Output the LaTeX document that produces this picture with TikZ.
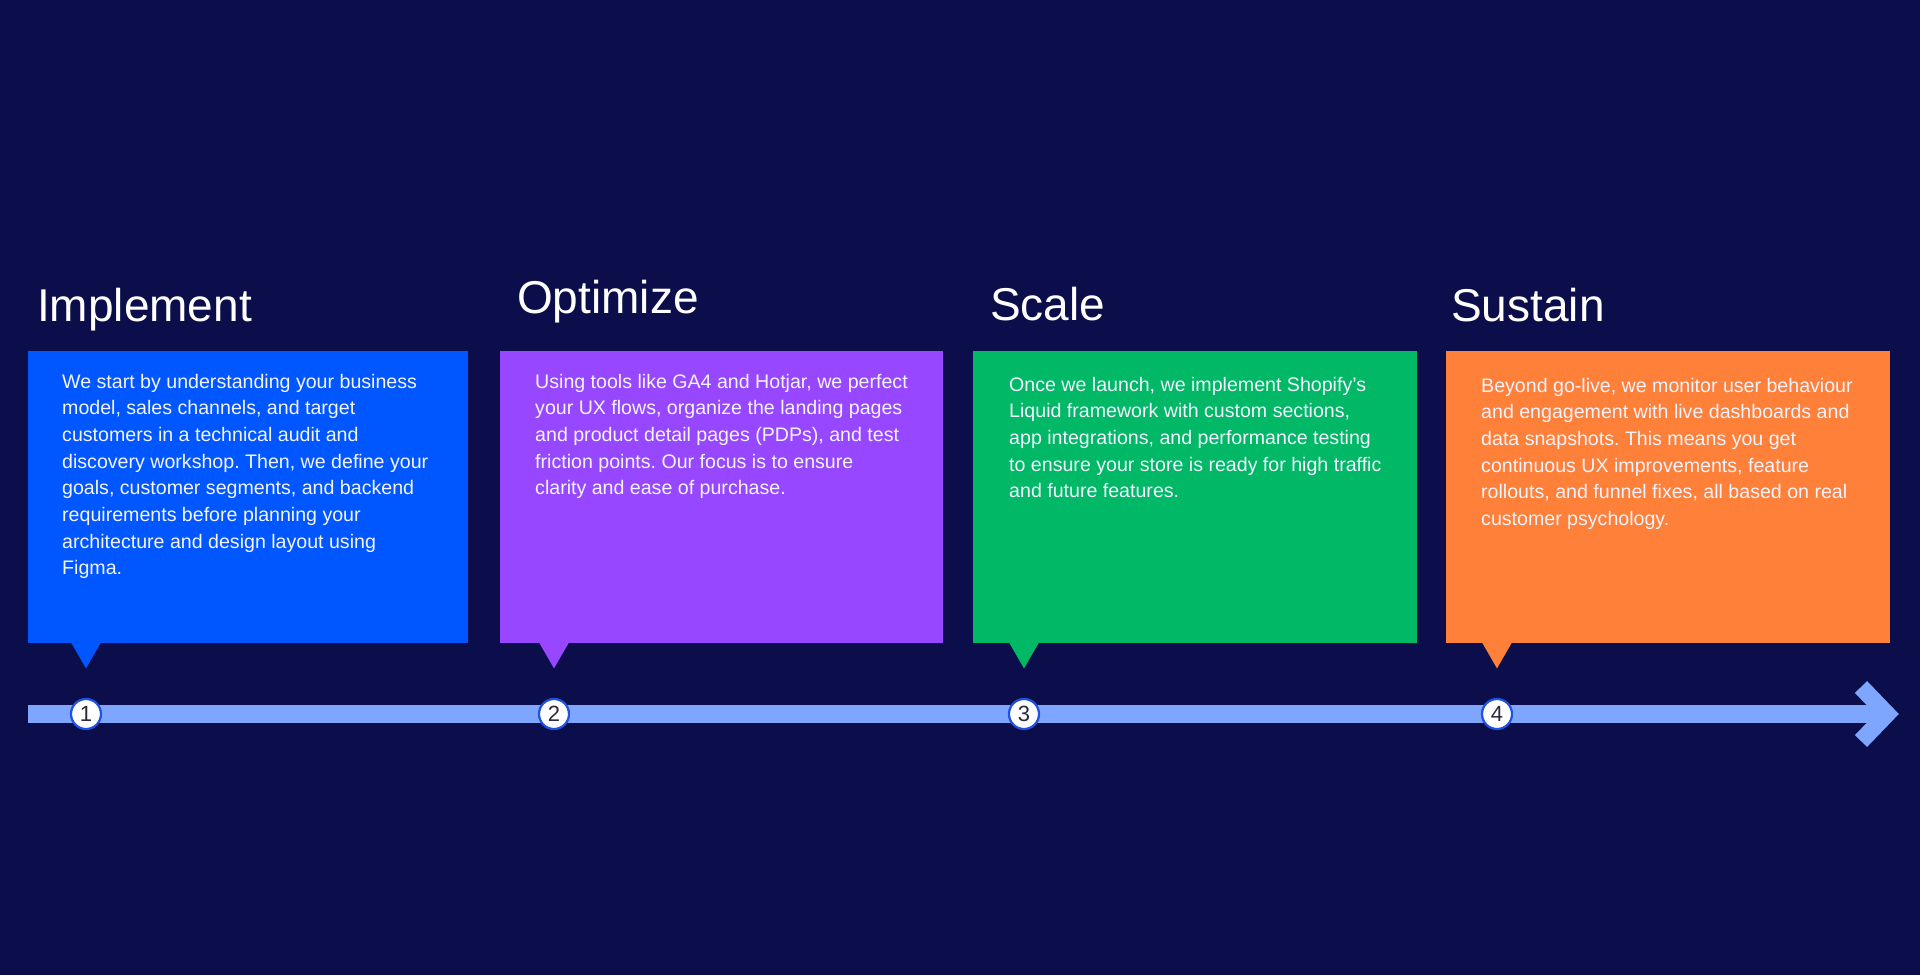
\documentclass[tikz,border=0pt]{standalone}
\usepackage{fontspec}
\setmainfont{Liberation Sans}
\usetikzlibrary{calc}
\definecolor{bg}{HTML}{0C0E4C}
\definecolor{cblue}{HTML}{0057FF}
\definecolor{cpurple}{HTML}{9747FF}
\definecolor{cgreen}{HTML}{00B865}
\definecolor{corange}{HTML}{FF8038}
\definecolor{barc}{HTML}{7FA6FF}
\definecolor{ring}{HTML}{1F52E0}
\definecolor{txt}{HTML}{F4F4FF}
\definecolor{numc}{HTML}{2A2A3A}
\tikzset{
  card/.style={fill=#1, draw=none, inner sep=0pt, anchor=north west, minimum height=292pt},
  title/.style={anchor=base west, inner sep=0pt, text=white, font=\fontsize{46}{50}\selectfont},
  body/.style={anchor=base west, inner sep=0pt, text=txt, font=\fontsize{19.6}{26.7}\selectfont},
  stepcircle/.style={circle, fill=white, draw=ring, line width=2.2pt, minimum size=30pt, inner sep=0pt, text=numc, font=\fontsize{22}{24}\selectfont},
  axisline/.style={draw=barc, line width=18pt},
}
\newcommand{\bodytext}[1]{\parbox[t]{430pt}{\raggedright\frenchspacing #1}}
\begin{document}
\begin{tikzpicture}[x=1pt,y=-1pt]
\fill[bg] (0,0) rectangle (1920,975);
\useasboundingbox (0,0) rectangle (1920,975);

% cards
\node[card=cblue, minimum width=440pt] (b1) at (28,351) {};
\node[card=cpurple, minimum width=443pt] (b2) at (500,351) {};
\node[card=cgreen, minimum width=444pt] (b3) at (973,351) {};
\node[card=corange, minimum width=444pt] (b4) at (1446,351) {};

% axis
\coordinate (s) at (28,714);
\coordinate (e) at (1887,714);
\draw[axisline] (s) -- ($(e)+(-4pt,0pt)$);
\draw[axisline, line width=17pt, miter limit=10] ($(e)+(-26pt,27pt)$) -- (e) -- ($(e)+(-26pt,-27pt)$);

% step circles
\node[stepcircle] (n1) at (86,714) {1};
\node[stepcircle] (n2) at (554,714) {2};
\node[stepcircle] (n3) at (1024,714) {3};
\node[stepcircle] (n4) at (1497,714) {4};

% pointers
\foreach \i/\c in {1/cblue,2/cpurple,3/cgreen,4/corange}{
  \fill[\c] ($(n\i |- b\i.south)+(-15pt,1pt)$) -- ($(n\i |- b\i.south)+(15pt,1pt)$) -- ($(n\i |- b\i.south)+(0pt,-25pt)$) -- cycle;
}

% titles
\node[title] (h1) at (37,321) {Implement};
\node[title] (h2) at (517,313) {Optimize};
\node[title] (h3) at (990,320) {Scale};
\node[title] (h4) at (1451,321) {Sustain};

% texts
\node[body] (t1) at (62,388) {\bodytext{We start by understanding your business\\
model, sales channels, and target\\
customers in a technical audit and\\
discovery workshop. Then, we define your\\
goals, customer segments, and backend\\
requirements before planning your\\
architecture and design layout using\\
Figma.}};
\node[body] (t2) at (535,388) {\bodytext{Using tools like GA4 and Hotjar, we perfect\\
your UX flows, organize the landing pages\\
and product detail pages (PDPs), and test\\
friction points. Our focus is to ensure\\
clarity and ease of purchase.}};
\node[body] (t3) at (1009,391) {\bodytext{Once we launch, we implement Shopify’s\\
Liquid framework with custom sections,\\
app integrations, and performance testing\\
to ensure your store is ready for high traffic\\
and future features.}};
\node[body] (t4) at (1481,392) {\bodytext{Beyond go-live, we monitor user behaviour\\
and engagement with live dashboards and\\
data snapshots. This means you get\\
continuous UX improvements, feature\\
rollouts, and funnel fixes, all based on real\\
customer psychology.}};
\end{tikzpicture}
\end{document}
